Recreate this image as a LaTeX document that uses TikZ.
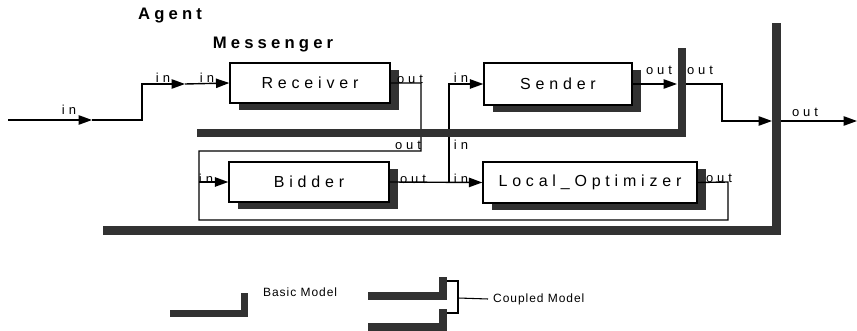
\documentclass[tikz,border=0pt]{standalone}
\usepackage{fontspec}
\setmainfont{Liberation Sans}
\usetikzlibrary{arrows.meta,shadows}
\definecolor{bargray}{RGB}{50,50,50}
\newcommand{\boxfont}{\fontsize{12}{14}\selectfont\addfontfeature{LetterSpace=30}}
\newcommand{\portfont}{\fontsize{9.75}{11}\selectfont\addfontfeature{LetterSpace=30}}
\newcommand{\titlefont}{\fontsize{12.5}{14}\selectfont\bfseries\addfontfeature{LetterSpace=25}}
\newcommand{\legendfont}{\fontsize{9}{10}\selectfont\addfontfeature{LetterSpace=8}}

\begin{document}
\begin{tikzpicture}[x=0.75pt, y=-0.75pt, line width=1.05pt, >={Triangle[length=10pt,width=7pt]},
    atomic/.style={draw, fill=white, inner sep=0pt, line width=1.05pt, font=\boxfont,
      drop shadow={shadow xshift=6.5pt, shadow yshift=-5.5pt, fill=bargray, opacity=1}},
    port/.style={font=\portfont, inner sep=0pt}]
  \newcommand{\modelL}[5]{% x left, x right, y top, y bottom, thickness
    \fill[bargray] (#1,#4-#5) rectangle (#2,#4);
    \fill[bargray] (#2-#5,#3) rectangle (#2,#4);}
  \useasboundingbox (0,0) rectangle (857,331);
  % ================================================================== titles
  \node[font=\titlefont] (agent) at (170,16) {Agent};
  \node[font=\titlefont] (messenger) at (273,45) {Messenger};
  % ================================================================== atomic models
  \node[atomic, minimum width=120pt, minimum height=30pt] (recv) at (310,83) {Receiver};
  \node[atomic, minimum width=111pt, minimum height=31.5pt] (send) at (558,84) {Sender};
  \node[atomic, minimum width=120pt, minimum height=30pt] (bid) at (309,182) {Bidder};
  \node[atomic, minimum width=160.5pt, minimum height=30.75pt] (opt) at (590,182.5) {Local\_Optimizer};
  % ================================================================== ports
  \coordinate (src) at (8,120);
  \coordinate (agin) at (92,120);
  \coordinate (msgin) at (185,84);
  \coordinate (msgout) at (677,84);
  \coordinate (msgnext) at (686,84);
  \coordinate (agout) at (772,121);
  \coordinate (agnext) at (781,121);
  \coordinate (sink) at (857,121);
  \coordinate (bidin) at (199,182);
  \coordinate (fork) at (449,182);
  % ================================================================== couplings
  \draw[->] (src) -- (agin);
  \draw[->] (agin) -- (142,120) |- (msgin);
  \draw[->] (msgin) -- (recv.west);
  \draw (recv.east) -| (421,151) -| (199,220) -| (728,182) -- (opt.east);
  \draw[->] (bidin) -- (bid.west);
  \draw[->] (bid.east) -- (opt.west);
  \draw[->] (fork) |- (send.west);
  \draw[->] (send.east) -- (msgout);
  \draw[->] (msgnext) -- (722,84) |- (agout);
  \draw[->] (agnext) -- (sink);
  % ================================================================== coupled model frames
  \modelL{197}{686}{48}{137}{8}
  \modelL{103}{781}{23}{235}{9}
  % ================================================================== port labels
  \foreach \x/\y/\t in {69/110/in, 163/78/in, 207/78/in, 410/79/out, 408/145/out, 461/145/in,
      461/78/in, 659/70/out, 700/70/out, 805/112/out, 413/179/out, 206/179/in, 461/179/in, 719/178/out}
    \node[port] at (\x,\y) {\t};
  % ================================================================== legend
  \modelL{170}{248}{293}{317}{7}
  \node[font=\legendfont, anchor=west] (basic) at (258,292) {Basic Model};
  \modelL{368}{447}{277}{300}{8}
  \modelL{368}{447}{309}{331}{8}
  \coordinate (brace) at (458,298);
  \draw[line width=0.8pt] (447,281) -| (458,313) -- (447,313);
  \node[font=\legendfont, anchor=west] (coupled) at (488,299) {Coupled Model};
  \draw[line width=0.8pt] (brace) -- (coupled.west);
\end{tikzpicture}
\end{document}
